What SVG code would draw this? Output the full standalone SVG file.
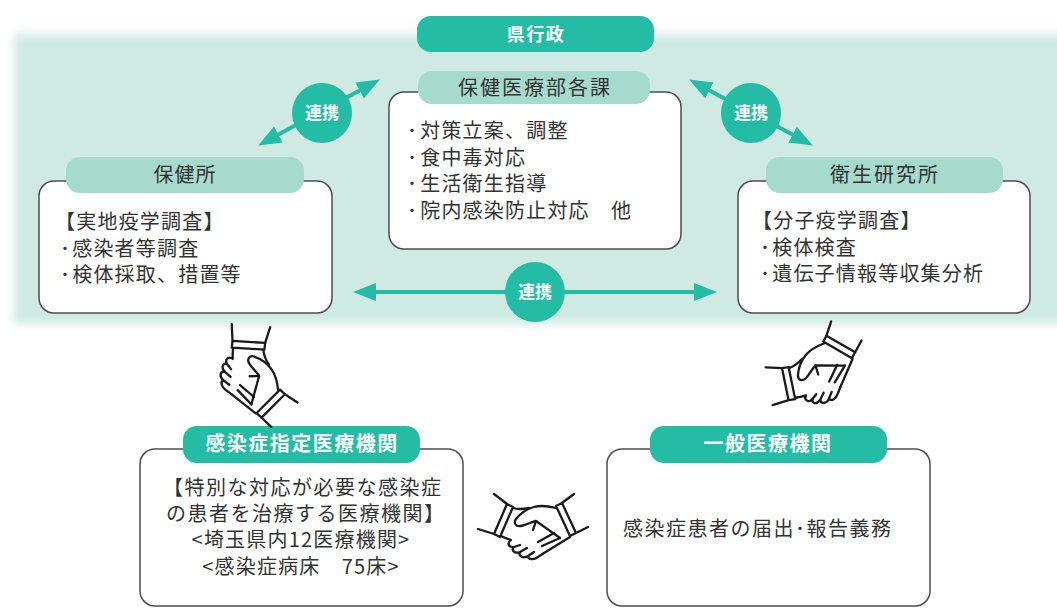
<svg xmlns="http://www.w3.org/2000/svg" width="1057" height="608" viewBox="0 0 1057 608">
  <style>
    text { font-family: "Noto Sans CJK JP", "Noto Sans CJK SC", sans-serif; }
    .box { fill: #ffffff; stroke: #4d4d4d; stroke-width: 1.5; }
    .pill-light { fill: #a6dacd; }
    .pill-dark { fill: #25bca5; }
    .body { font-size: 20px; fill: #333333; letter-spacing: 1.2px; }
    .lbl { font-size: 20px; fill: #333333; text-anchor: middle; letter-spacing: 1px; }
    .wlbl { font-size: 20px; fill: #ffffff; font-weight: bold; text-anchor: middle; letter-spacing: 1.5px; }
    .link-line { stroke: #25bca5; stroke-width: 4; fill: none; marker-start: url(#head); marker-end: url(#head); }
    .link-dot { fill: #25bca5; }
    .link-txt { font-size: 17px; fill: #ffffff; font-weight: bold; text-anchor: middle; }
    .hs { fill: none; stroke: #1a1a1a; stroke-width: 2.3; stroke-linecap: round; stroke-linejoin: round; }
    .hs-fill { fill: #ffffff; stroke: #1a1a1a; stroke-width: 2.3; stroke-linejoin: round; }
  </style>
  <defs>
    <filter id="soft" filterUnits="userSpaceOnUse" x="-40" y="0" width="1160" height="380">
      <feGaussianBlur stdDeviation="5"/>
    </filter>
    <marker id="head" markerUnits="userSpaceOnUse" markerWidth="24" markerHeight="20" refX="12" refY="9" orient="auto-start-reverse" viewBox="0 0 24 18">
      <path d="M0,0 L23,9 L0,18 Z" fill="#25bca5"/>
    </marker>
    <!-- handshake icon drawn in a 120x80 box -->
    <g id="handshake">
      <!-- left sleeve -->
      <path class="hs" d="M24,14 L37,24 M8,49 L24,54"/>
      <path class="hs-fill" d="M37,24 L43,27 L30,57 L24,54 Z"/>
      <!-- right sleeve -->
      <path class="hs" d="M92,23 L104,14 M106,53 L118,47"/>
      <path class="hs-fill" d="M86,26 L92,23 L106,53 L100,56 Z"/>
      <!-- upper hand with thumb -->
      <path class="hs" d="M86,28 C78,26 71,25 64,27 C57,29 50,34 46,39 C43,43 46,47 51,46 C56,45 61,42 66,41 L90,58"/>
      <!-- left hand back -->
      <path class="hs" d="M43,28 C49,30 54,29 59,28"/>
      <!-- wrapped fingers -->
      <path class="hs" d="M31,56 C35,58 38,59 41,60 C37,62 38,68 44,67 C41,70 44,74 50,72 C48,76 53,79 58,76 C58,80 64,80 68,77 L74,73"/>
      <path class="hs" d="M44,67 L50,65 M50,72 L57,68 M58,76 L64,72"/>
      <path class="hs" d="M68,62 L84,53 M74,73 L100,57 M66,41 L63,50 M72,66 L90,58"/>
    </g>
  </defs>

  <!-- shared backdrop of the prefectural administration -->
  <rect x="14" y="34" width="1080" height="290" fill="#cfeae2" filter="url(#soft)"/>

  <!-- connectors -->
  <g id="connectors">
    <line class="link-line" x1="267.8" y1="140.2" x2="370.2" y2="84.8"/>
    <circle class="link-dot" cx="322" cy="113" r="30"/>
    <text class="link-txt" x="322" y="119">連携</text>

    <line class="link-line" x1="698.8" y1="84.7" x2="803.2" y2="140.3"/>
    <circle class="link-dot" cx="751" cy="113" r="30"/>
    <text class="link-txt" x="751" y="119">連携</text>

    <line class="link-line" x1="364" y1="292" x2="706" y2="292"/>
    <circle class="link-dot" cx="535" cy="292" r="30"/>
    <text class="link-txt" x="535" y="298">連携</text>
  </g>

  <!-- 県行政 -->
  <g id="kengyosei">
    <rect class="pill-dark" x="417" y="16" width="237" height="36" rx="14"/>
    <text class="wlbl" x="536" y="41" style="font-size:18px">県行政</text>
  </g>

  <!-- 保健医療部各課 -->
  <g id="hokeniryobu">
    <rect class="box" x="389" y="92" width="292" height="157" rx="15"/>
    <rect class="pill-light" x="418" y="71" width="232" height="33" rx="14"/>
    <text class="lbl" x="535" y="95" style="letter-spacing:2px">保健医療部各課</text>
    <text class="body" x="407" y="138">･<tspan dx="2">対策立案、調整</tspan></text>
    <text class="body" x="407" y="165">･<tspan dx="2">食中毒対応</tspan></text>
    <text class="body" x="407" y="191">･<tspan dx="2">生活衛生指導</tspan></text>
    <text class="body" x="407" y="218">･<tspan dx="2">院内感染防止対応　他</tspan></text>
  </g>

  <!-- 保健所 -->
  <g id="hokenjo">
    <rect class="box" x="39" y="181" width="293" height="132" rx="15"/>
    <rect class="pill-light" x="66" y="157" width="238" height="36" rx="14"/>
    <text class="lbl" x="185" y="182">保健所</text>
    <text class="body" x="55" y="229">【実地疫学調査】</text>
    <text class="body" x="60" y="256">･<tspan dx="1">感染者等調査</tspan></text>
    <text class="body" x="60" y="282">･<tspan dx="1">検体採取、措置等</tspan></text>
  </g>

  <!-- 衛生研究所 -->
  <g id="eiseikenkyujo">
    <rect class="box" x="738" y="181" width="292" height="132" rx="15"/>
    <rect class="pill-light" x="766" y="157" width="237" height="36" rx="14"/>
    <text class="lbl" x="885" y="182" style="letter-spacing:2px">衛生研究所</text>
    <text class="body" x="752" y="228">【分子疫学調査】</text>
    <text class="body" x="760" y="255">･<tspan dx="1">検体検査</tspan></text>
    <text class="body" x="760" y="281">･<tspan dx="1">遺伝子情報等収集分析</tspan></text>
  </g>

  <!-- 感染症指定医療機関 -->
  <g id="shitei-iryokikan">
    <rect class="box" x="140" y="449" width="323" height="157" rx="15"/>
    <rect class="pill-dark" x="183" y="426" width="237" height="37" rx="14"/>
    <text class="wlbl" x="302" y="451">感染症指定医療機関</text>
    <text class="body" x="163" y="495" style="letter-spacing:1.5px">【特別な対応が必要な感染症</text>
    <text class="body" x="166" y="521" style="letter-spacing:1.5px">の患者を治療する医療機関】</text>
    <text class="body" x="301" y="547" text-anchor="middle">&lt;埼玉県内12医療機関&gt;</text>
    <text class="body" x="301" y="574" text-anchor="middle">&lt;感染症病床　75床&gt;</text>
  </g>

  <!-- 一般医療機関 -->
  <g id="ippan-iryokikan">
    <rect class="box" x="607" y="449" width="323" height="157" rx="15"/>
    <rect class="pill-dark" x="650" y="426" width="237" height="37" rx="14"/>
    <text class="wlbl" x="768" y="451">一般医療機関</text>
    <text class="body" x="623" y="536" style="letter-spacing:1.5px">感染症患者の届出･報告義務</text>
  </g>

  <!-- handshake icons -->
  <g id="handshake-left" transform="translate(258,370) rotate(70) translate(-60,-40)">
    <use href="#handshake"/>
  </g>
  <g id="handshake-right" transform="translate(810,368) rotate(-35) translate(-60,-40)">
    <use href="#handshake"/>
  </g>
  <g id="handshake-bottom" transform="translate(470,480)">
    <use href="#handshake"/>
  </g>
</svg>
